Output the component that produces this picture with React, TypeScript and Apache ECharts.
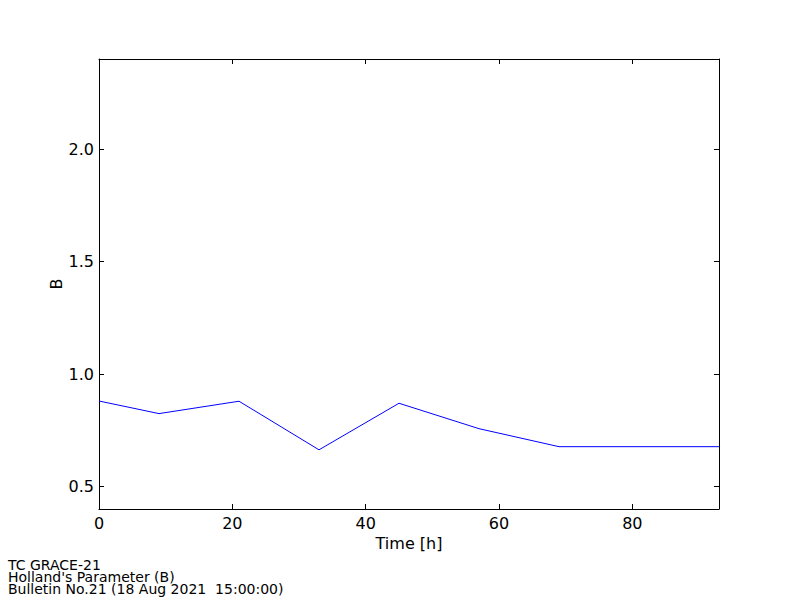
import React, { useEffect, useRef } from "react";
import * as echarts from "echarts";

const hours = [0, 9, 21, 33, 45, 57, 69, 93];
const bValues = [0.88, 0.824, 0.879, 0.663, 0.87, 0.757, 0.677, 0.677];
const xTicks = [0, 20, 40, 60, 80];
const yTicks = [0.5, 1.0, 1.5, 2.0];
const yAxisTitle = "B";
const footerLines = ["TC GRACE-21", "Holland's Parameter (B)", "Bulletin No.21 (18 Aug 2021  15:00:00)"];

const FONT = "DejaVu Sans";

export default function App() {
  const ref = useRef<HTMLDivElement>(null);
  useEffect(() => {
    if (!ref.current) return;
    const chart = echarts.init(ref.current, null, { renderer: "svg" });
    const tickCommon = { show: true, inside: true, length: 5, lineStyle: { color: "#000", width: 1 } };
    const lineCommon = { show: true, onZero: false, lineStyle: { color: "#000", width: 1 } };
    chart.setOption({
      animation: false,
      backgroundColor: "#fff",
      grid: { left: 99, top: 59, right: 81, bottom: 91, containLabel: false },
      xAxis: [
        {
          type: "value",
          min: 0,
          max: 93,
          interval: 20,
          position: "bottom",
          name: "Time [h]",
          nameLocation: "middle",
          nameGap: 25,
          nameTextStyle: { fontFamily: FONT, fontSize: 16, color: "#000" },
          axisLine: lineCommon,
          axisTick: tickCommon,
          splitLine: { show: false },
          axisLabel: {
            fontFamily: FONT,
            fontSize: 16,
            color: "#000",
            margin: 6,
            showMaxLabel: false,
            formatter: (v: number) => (xTicks.includes(v) ? String(v) : ""),
          },
        },
        {
          type: "value",
          min: 0,
          max: 93,
          interval: 20,
          position: "top",
          axisLine: lineCommon,
          axisTick: tickCommon,
          splitLine: { show: false },
          axisLabel: { show: false },
        },
      ],
      yAxis: [
        {
          type: "value",
          min: 0.4,
          max: 2.4,
          position: "left",
          axisLine: lineCommon,
          axisTick: { ...tickCommon, customValues: yTicks },
          splitLine: { show: false },
          axisLabel: {
            fontFamily: FONT,
            fontSize: 16,
            color: "#000",
            margin: 5,
            customValues: yTicks,
            formatter: (v: number) => v.toFixed(1),
          },
        },
        {
          type: "value",
          min: 0.4,
          max: 2.4,
          position: "right",
          axisLine: lineCommon,
          axisTick: { ...tickCommon, customValues: yTicks },
          splitLine: { show: false },
          axisLabel: { show: false, customValues: yTicks },
        },
      ],
      series: [
        {
          type: "line",
          data: hours.map((h, i) => [h, bValues[i]]),
          showSymbol: false,
          symbol: "none",
          lineStyle: { color: "#0000ff", width: 1 },
          xAxisIndex: 0,
          yAxisIndex: 0,
        },
      ],
      graphic: [
        {
          type: "text",
          x: 56,
          y: 284,
          rotation: Math.PI / 2,
          style: {
            text: yAxisTitle,
            fontFamily: FONT,
            fontSize: 16,
            fill: "#000",
            align: "center",
            verticalAlign: "middle",
          },
        },
        {
          type: "text",
          left: 8,
          top: 558,
          style: {
            text: footerLines.join("\n"),
            fontFamily: FONT,
            fontSize: 14,
            lineHeight: 12,
            fill: "#000",
          },
        },
      ],
    });
    return () => chart.dispose();
  }, []);
  return <div ref={ref} style={{ position: "fixed", left: 0, top: 0, width: 800, height: 600 }} />;
}
